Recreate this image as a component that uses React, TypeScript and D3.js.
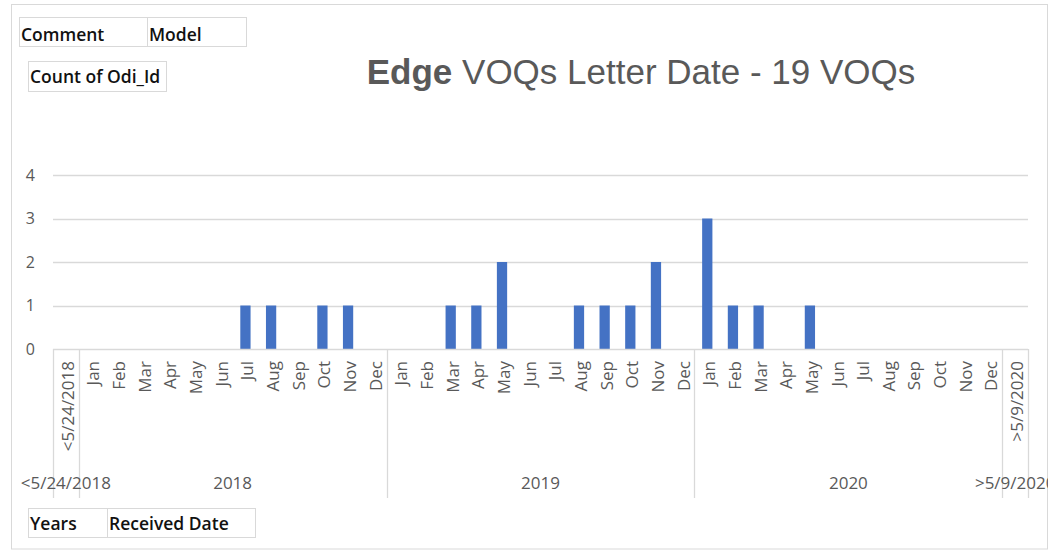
import * as d3 from "d3";
import * as React from "react";

// values (count of Odi_Id per received month)
const monthNames = ["Jan", "Feb", "Mar", "Apr", "May", "Jun", "Jul", "Aug", "Sep", "Oct", "Nov", "Dec"];
const beforeLabel = "<5/24/2018";
const afterLabel = ">5/9/2020";
const years = ["2018", "2019", "2020"];
const counts2018 = [0, 0, 0, 0, 0, 0, 1, 1, 0, 1, 1, 0];
const counts2019 = [0, 0, 1, 1, 2, 0, 0, 1, 1, 1, 2, 0];
const counts2020 = [3, 1, 1, 0, 1, 0, 0, 0, 0, 0, 0, 0];
const countBefore = 0;
const countAfter = 0;
const yTicks = [0, 1, 2, 3, 4];

interface Cat {
  key: string;
  group: string;
  label: string;
  value: number;
}

const W = 1051;
const H = 551;
const AXIS_FONT = '"Open Sans", "Noto Sans", sans-serif';
const GREY = "#595959";
const LINE = "#d9d9d9";

function buildCats(): Cat[] {
  const cats: Cat[] = [{ key: "b", group: beforeLabel, label: beforeLabel, value: countBefore }];
  const all = [counts2018, counts2019, counts2020];
  years.forEach((yr, yi) => {
    monthNames.forEach((m, mi) => {
      cats.push({ key: `${yr}-${m}`, group: yr, label: m, value: all[yi][mi] });
    });
  });
  cats.push({ key: "a", group: afterLabel, label: afterLabel, value: countAfter });
  return cats;
}

function drawChart(el: SVGSVGElement) {
  const svg = d3.select(el);
  svg.selectAll("*").remove();

  const cats = buildCats();
  const left = 53;
  const right = 1028;
  const y0 = 349;

  const x = d3
    .scaleBand<string>()
    .domain(cats.map((c) => c.key))
    .range([left, right])
    .paddingInner(0.6)
    .paddingOuter(0.3);
  const step = x.step();
  const slotStart = (i: number) => left + i * step;

  const y = d3.scaleLinear().domain([0, 4]).range([y0, 175]);

  svg
    .append("defs")
    .append("clipPath")
    .attr("id", "chartClip")
    .append("rect")
    .attr("x", 12)
    .attr("y", 4)
    .attr("width", 1036)
    .attr("height", 545);

  // chart area border
  svg
    .append("rect")
    .attr("x", 11.5)
    .attr("y", 4.5)
    .attr("width", 1036)
    .attr("height", 544.5)
    .attr("fill", "#fff")
    .attr("stroke", LINE);

  const g = svg.append("g").attr("clip-path", "url(#chartClip)");

  // gridlines + y labels
  g.append("g")
    .selectAll("line")
    .data(yTicks.filter((t) => t > 0))
    .enter()
    .append("line")
    .attr("x1", left)
    .attr("x2", right)
    .attr("y1", (d) => Math.round(y(d)) + 0.5)
    .attr("y2", (d) => Math.round(y(d)) + 0.5)
    .attr("stroke", LINE)
    .attr("stroke-width", 1.3);

  g.append("g")
    .selectAll("text")
    .data(yTicks)
    .enter()
    .append("text")
    .attr("x", 35)
    .attr("y", (d) => y(d))
    .attr("dy", "0.35em")
    .attr("text-anchor", "end")
    .attr("font-family", AXIS_FONT)
    .attr("font-size", 16)
    .attr("fill", GREY)
    .text((d) => d);

  // bars
  g.append("g")
    .selectAll("rect")
    .data(cats.filter((c) => c.value > 0))
    .enter()
    .append("rect")
    .attr("x", (d) => x(d.key)!)
    .attr("y", (d) => y(d.value))
    .attr("width", x.bandwidth())
    .attr("height", (d) => y0 - y(d.value))
    .attr("fill", "#4472c4");

  // category axis line
  g.append("line")
    .attr("x1", left)
    .attr("x2", right)
    .attr("y1", y0 + 0.5)
    .attr("y2", y0 + 0.5)
    .attr("stroke", LINE)
    .attr("stroke-width", 1.3);

  // group boundaries
  const boundaries = [0, 1, 13, 25, 37, 38];
  g.append("g")
    .selectAll("line")
    .data(boundaries)
    .enter()
    .append("line")
    .attr("x1", (d) => Math.round(slotStart(d)) + 0.5)
    .attr("x2", (d) => Math.round(slotStart(d)) + 0.5)
    .attr("y1", y0)
    .attr("y2", 498)
    .attr("stroke", LINE)
    .attr("stroke-width", 1.3);

  // inner (rotated) labels
  g.append("g")
    .selectAll("text")
    .data(cats)
    .enter()
    .append("text")
    .attr("transform", (d) => `translate(${x(d.key)! + x.bandwidth() / 2 + 2}, 361) rotate(-90)`)
    .attr("dy", "0.35em")
    .attr("text-anchor", "end")
    .attr("font-family", AXIS_FONT)
    .attr("font-size", 17)
    .attr("fill", GREY)
    .text((d) => d.label);

  // outer (group) labels
  const groupSpans = [
    { name: beforeLabel, from: 0, to: 1 },
    { name: years[0], from: 1, to: 13 },
    { name: years[1], from: 13, to: 25 },
    { name: years[2], from: 25, to: 37 },
    { name: afterLabel, from: 37, to: 38 },
  ];
  g.append("g")
    .selectAll("text")
    .data(groupSpans)
    .enter()
    .append("text")
    .attr("x", (d) => (slotStart(d.from) + slotStart(d.to)) / 2)
    .attr("y", 489)
    .attr("text-anchor", "middle")
    .attr("font-family", AXIS_FONT)
    .attr("font-size", 17)
    .attr("fill", GREY)
    .text((d) => d.name);

  // title
  const title = svg
    .append("text")
    .attr("x", 641)
    .attr("y", 84)
    .attr("text-anchor", "middle")
    .attr("font-family", '"Liberation Sans", Arial, sans-serif')
    .attr("font-size", 35)
    .attr("fill", GREY);
  title.append("tspan").attr("font-weight", "bold").text("Edge");
  title.append("tspan").text(" VOQs Letter Date - 19 VOQs");

  // pivot field buttons
  const buttons = [
    { x: 19.5, y: 17.5, w: 227, h: 29, base: 23, cells: [{ t: "Comment", w: 128 }, { t: "Model", w: 99 }] },
    { x: 28.5, y: 61.5, w: 138, h: 30, base: 21, cells: [{ t: "Count of Odi_Id", w: 138 }] },
    { x: 28.5, y: 508.5, w: 227, h: 29, base: 21.5, cells: [{ t: "Years", w: 79 }, { t: "Received Date", w: 148 }] },
  ];
  buttons.forEach((b) => {
    const bg = svg.append("g").attr("transform", `translate(${b.x}, ${b.y})`);
    let cx = 0;
    b.cells.forEach((c) => {
      bg.append("rect")
        .attr("x", cx)
        .attr("y", 0)
        .attr("width", c.w)
        .attr("height", b.h)
        .attr("fill", "#fff")
        .attr("stroke", LINE);
      bg.append("text")
        .attr("x", cx + 1.5)
        .attr("y", b.base)
        .attr("font-family", AXIS_FONT)
        .attr("font-weight", 600)
        .attr("font-size", 17.5)
        .attr("fill", "#111")
        .text(c.t);
      cx += c.w;
    });
  });
}

export default function App() {
  const ref = React.useRef<SVGSVGElement>(null);

  React.useEffect(() => {
    if (ref.current) drawChart(ref.current);
  }, []);

  return (
    <svg
      ref={ref}
      width={W}
      height={H}
      style={{ position: "absolute", top: 0, left: 0, background: "#fff" }}
    />
  );
}
